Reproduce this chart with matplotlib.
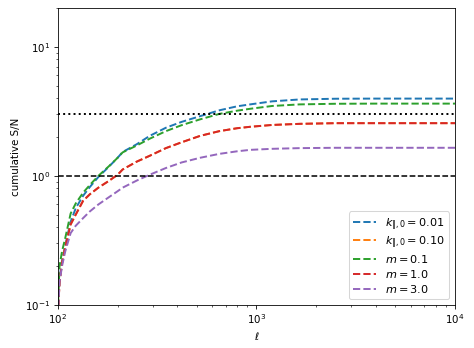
import numpy as np
import matplotlib
matplotlib.use("Agg")
import matplotlib.pyplot as plt

ell = [100, 102, 105, 109, 116, 123, 134, 145, 160, 180, 200, 212, 250, 290,
       350, 420, 520, 650, 800, 930, 1200, 1650, 2500, 4000, 10000]

sn_k001 = [0.08, 0.16, 0.22, 0.29, 0.44, 0.56, 0.70, 0.82, 0.98, 1.17, 1.38, 1.53,
           1.76, 2.04, 2.36, 2.62, 2.90, 3.22, 3.46, 3.58, 3.78, 3.91, 3.96, 3.97, 3.97]
sn_k010 = [0.08, 0.15, 0.21, 0.28, 0.42, 0.50, 0.64, 0.72, 0.81, 0.91, 1.02, 1.12,
           1.29, 1.43, 1.64, 1.82, 2.04, 2.22, 2.34, 2.40, 2.48, 2.53, 2.56, 2.56, 2.56]
sn_m01 = [0.09, 0.20, 0.26, 0.33, 0.51, 0.61, 0.74, 0.85, 1.00, 1.18, 1.38, 1.52,
          1.72, 1.94, 2.22, 2.47, 2.74, 3.02, 3.20, 3.31, 3.48, 3.58, 3.62, 3.63, 3.63]
sn_m10 = [0.08, 0.15, 0.21, 0.28, 0.42, 0.50, 0.64, 0.72, 0.81, 0.91, 1.02, 1.12,
          1.29, 1.43, 1.64, 1.82, 2.04, 2.22, 2.34, 2.40, 2.48, 2.53, 2.56, 2.56, 2.56]
sn_m30 = [0.08, 0.15, 0.20, 0.26, 0.36, 0.41, 0.47, 0.53, 0.60, 0.68, 0.76, 0.81,
          0.92, 1.02, 1.15, 1.27, 1.38, 1.48, 1.55, 1.59, 1.62, 1.64, 1.65, 1.65, 1.65]

labels = [r'$k_{\|,0}=0.01$', r'$k_{\|,0}=0.10$', r'$m=0.1$', r'$m=1.0$', r'$m=3.0$']
series = [sn_k001, sn_k010, sn_m01, sn_m10, sn_m30]

dpi = 474 / 6.4
fig = plt.figure(figsize=(6.4, 348 / dpi), dpi=dpi)
ax = fig.add_axes([0.122, 0.124, 0.838, 0.853])

for s, lab in zip(series, labels):
    ax.plot(ell, s, ls='--', lw=1.9, label=lab)

ax.axhline(1, color='k', ls='--', lw=1.5)
ax.axhline(3, color='k', ls=':', lw=1.9)

ax.set_xscale('log')
ax.set_yscale('log')
ax.set_xlim(100, 10000)
ax.set_ylim(0.1, 20)
ax.set_xlabel(r'$\ell$')
ax.set_ylabel('cumulative S/N')
ax.legend(loc='lower right', fontsize=11, labelspacing=0.25)

fig.savefig('out.png', dpi=dpi)
